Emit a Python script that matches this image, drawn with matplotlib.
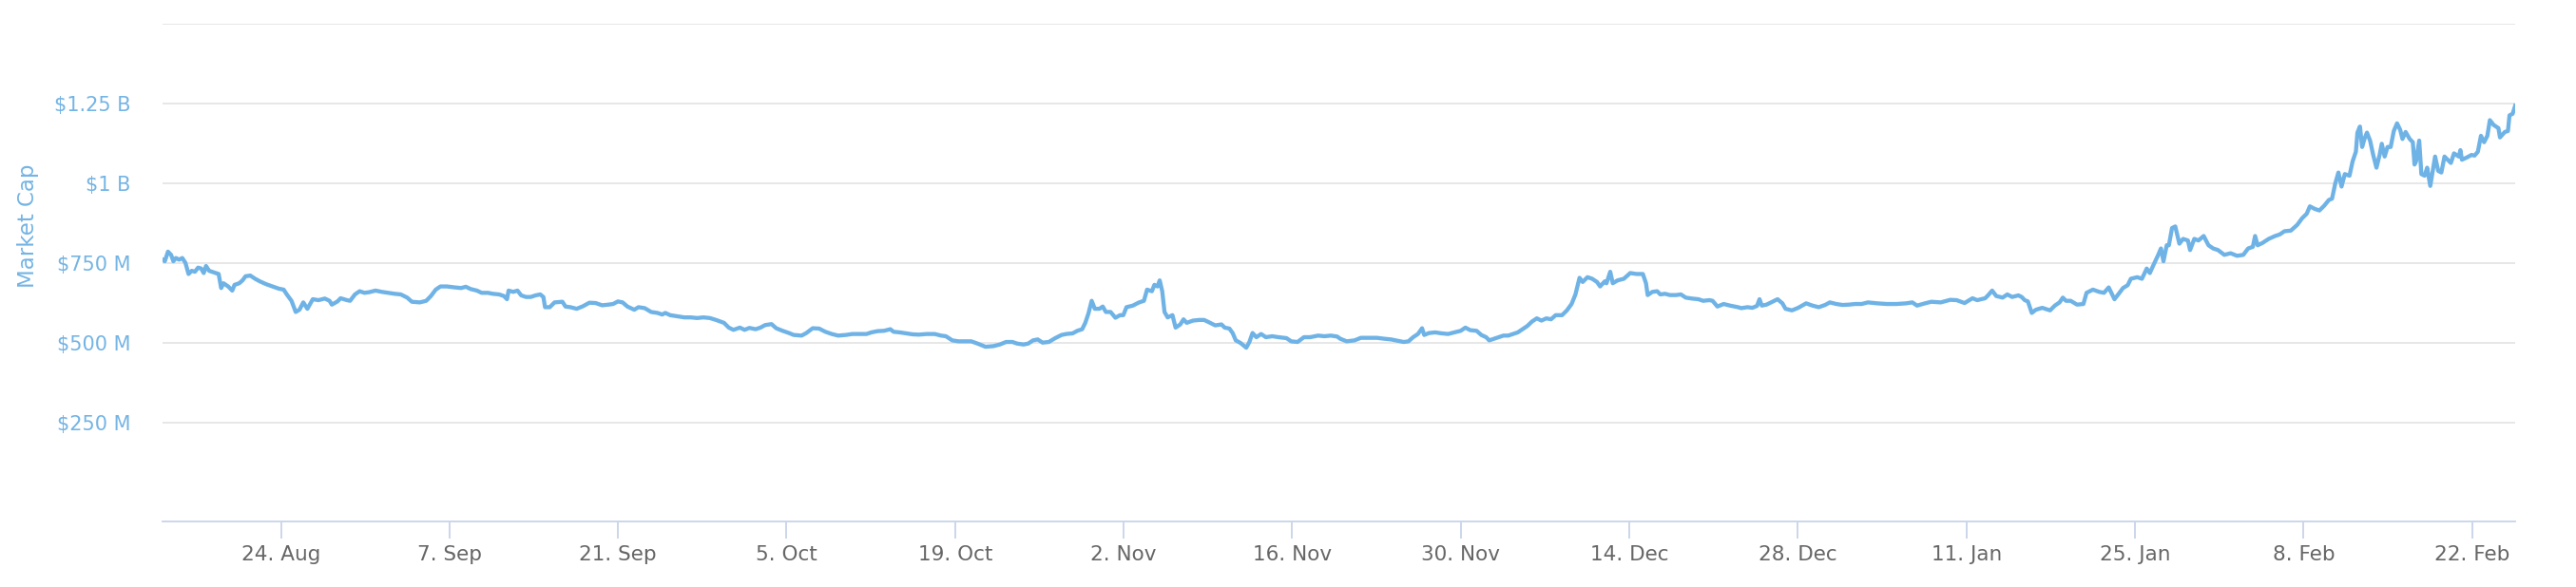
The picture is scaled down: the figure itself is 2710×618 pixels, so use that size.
import numpy as np
import pandas as pd
import matplotlib
matplotlib.use("Agg")
import matplotlib.pyplot as plt
import matplotlib.dates as mdates
from matplotlib.ticker import FixedLocator, FuncFormatter

# days after 24 Aug 2020, market cap in millions of USD
days = [
    -9.83, -9.64, -9.38, -9.12, -8.93, -8.72, -8.46, -8.19, -7.93, -7.67, -7.41, -7.14,
    -6.88, -6.62, -6.41, -6.22, -5.96, -5.56, -5.17, -4.96, -4.77, -4.38, -4.04, -3.85,
    -3.46, -3.19, -2.93, -2.54, -2.14, -1.75, -1.22, -0.69, -0.17, 0.23, 0.49, 0.88,
    1.23, 1.54, 1.86, 2.20, 2.65, 3.12, 3.65, 4.04, 4.23, 4.70, 4.96, 5.49, 5.75, 6.15,
    6.54, 6.94, 7.33, 7.86, 8.38, 8.91, 9.44, 9.96, 10.49, 10.88, 11.54, 12.07, 12.46,
    12.86, 13.25, 13.78, 14.44, 14.96, 15.36, 15.75, 16.28, 16.67, 17.20, 17.59, 18.12,
    18.52, 18.78, 18.91, 19.30, 19.65, 19.96, 20.36, 20.75, 21.15, 21.54, 21.80, 21.94,
    22.33, 22.73,
    23.38, 23.64, 24.04, 24.57, 25.09, 25.62, 26.14, 26.67, 27.20, 27.59, 27.99, 28.38,
    28.78, 29.35, 29.70, 30.22, 30.75, 31.28, 31.67, 31.93, 32.33, 32.85, 33.51, 34.04,
    34.57, 35.09, 35.62, 36.14, 36.80, 37.20, 37.59, 38.12, 38.51, 38.91, 39.43, 39.83,
    40.22, 40.75, 41.14, 41.67, 42.20, 42.59, 43.25, 43.64, 44.17, 44.70, 45.22, 45.75,
    46.28, 46.93, 47.46, 48.12, 48.64, 49.04, 49.57, 50.09, 50.62, 50.88, 51.41, 51.93,
    52.46, 52.99, 53.64, 54.30, 54.83,
    55.23, 55.76, 56.28, 56.81, 57.34, 57.86, 58.52, 59.18, 59.70, 60.23, 60.76, 61.15,
    61.68, 62.07, 62.47, 62.86, 63.26, 63.78, 64.31, 64.84, 65.23, 65.76, 66.15, 66.55,
    66.81, 67.07, 67.34, 67.60, 67.99, 68.26, 68.52, 68.91, 69.31, 69.70, 69.97, 70.23,
    70.76, 71.28, 71.68, 71.94, 72.34, 72.55, 72.81, 72.99, 73.20, 73.39, 73.65, 74.05,
    74.31, 74.70, 74.97, 75.23, 75.76, 76.28, 76.68, 77.07, 77.60, 78.12, 78.39, 78.78,
    79.05, 79.31, 79.70, 80.18, 80.44, 80.70, 81.02, 81.41, 81.81, 82.33, 82.86, 83.52,
    83.91, 84.44, 84.97, 85.49, 86.15, 86.68, 87.20, 87.73,
    87.99, 88.52, 89.17, 89.70, 90.36, 91.02, 91.67, 92.20, 92.59, 93.25, 93.65, 94.04,
    94.44, 94.78, 94.96, 95.36, 95.88, 96.41, 96.94, 97.46, 97.99, 98.38, 98.78, 99.31,
    99.70, 100.10, 100.36, 100.75, 101.15, 101.54, 101.94, 102.33, 102.73, 103.12,
    103.52, 103.91, 104.31, 104.70, 105.10, 105.49, 105.88, 106.41, 106.81, 107.20,
    107.52, 107.86, 108.12, 108.52, 108.91, 109.31, 109.57, 109.96, 110.10, 110.41,
    110.62, 111.02, 111.54, 112.07, 112.60, 113.12, 113.38, 113.52, 113.91, 114.31,
    114.57, 114.96, 115.36, 115.88, 116.28, 116.68, 117.20, 117.73, 118.12, 118.65,
    118.91, 119.31, 119.83, 120.36, 121.02,
    121.29, 121.81, 122.21, 122.60, 122.81, 123.00, 123.39, 123.92, 124.31, 124.71,
    124.97, 125.50, 126.02, 126.68, 127.21, 127.73, 128.26, 128.65, 129.18, 129.71,
    130.23, 130.76, 131.29, 131.81, 132.60, 133.39, 134.18, 134.97, 135.50, 135.89,
    136.55, 137.08, 137.86, 138.65, 139.18, 139.84, 140.50, 140.89, 141.55, 141.81,
    142.13, 142.47, 143.00, 143.39, 143.79, 144.31, 144.58, 144.84, 145.10, 145.42,
    145.76, 146.29, 146.94, 147.34, 147.73, 148.00, 148.26, 148.65, 149.18, 149.71,
    149.97, 150.50, 151.02, 151.42, 151.81, 152.29, 152.60, 153.00, 153.39, 153.65,
    154.18, 154.57, 154.97, 155.23, 155.49, 155.89, 156.15, 156.36, 156.63, 156.81,
    157.07, 157.34, 157.68, 157.99, 158.39, 158.57, 158.92, 159.26, 159.70, 160.10,
    160.49, 160.89, 161.41, 161.94, 162.47, 162.99, 163.39, 163.78, 163.97, 164.18,
    164.57, 165.10, 165.63, 166.02, 166.41, 166.94, 167.47, 167.86, 168.26, 168.52,
    168.92, 169.31, 169.71, 170.10, 170.36, 170.63, 170.89, 171.15, 171.42, 171.81,
    172.07, 172.34, 172.47, 172.68, 172.86, 173.05, 173.26, 173.52, 173.78, 174.05,
    174.31, 174.49, 174.73, 174.97, 175.23, 175.49, 175.76, 176.02, 176.21, 176.47,
    176.81, 177.07, 177.21, 177.34, 177.60, 177.78, 178.05, 178.26, 178.52, 178.92,
    179.18, 179.44, 179.70, 179.97, 180.23, 180.49, 180.89, 181.02, 181.15, 181.55,
    181.94, 182.20, 182.47, 182.73, 182.99, 183.26, 183.47, 183.78, 184.18, 184.31,
    184.71, 184.97, 185.10, 185.36, 185.57,
]
market_cap = [
    760, 755, 785, 775, 755, 765, 760, 765, 750, 715, 725, 722,
    735, 732, 718, 740, 725, 720, 715, 671, 686, 676, 663, 681,
    686, 695, 708, 710, 700, 692, 683, 676, 669, 666, 651, 631,
    596, 603, 626, 606, 636, 633, 638, 631, 619, 629, 639, 633, 631, 651,
    661, 656, 658, 663, 659, 656, 653, 651, 641, 628, 626, 631, 646,
    666, 676, 676, 673, 671, 675, 668, 663, 656, 656, 653, 651,
    646, 636, 663, 659, 663, 648, 643, 643, 648, 651, 643, 611,
    611, 626,
    628, 613, 611, 606, 614, 625, 624, 617, 619, 621, 629, 626,
    613, 603, 611, 608, 596, 593, 588, 593, 586, 583, 579, 579,
    577, 579, 577, 571, 562, 547, 540, 547, 540, 546, 542, 547,
    555, 558, 545, 537, 530, 524, 522, 530, 545, 544, 534, 527,
    522, 524, 527, 527, 527, 532, 536, 537, 542, 534, 532, 529,
    526, 525, 527, 527, 522,
    520, 507, 504, 504, 504, 497, 487, 489, 494, 502, 502, 497,
    494, 497, 507, 510, 500, 502, 514, 524, 527, 529, 537, 542,
    562, 591, 631, 606, 606, 613, 596, 596, 578, 586, 586, 611,
    616, 626, 631, 666, 661, 681, 676, 695, 661, 596, 579, 586,
    547, 557, 573, 562, 569, 571, 571, 564, 554, 557, 547, 544,
    530, 507, 499, 484, 502, 530, 517, 527, 517, 520, 517, 514,
    504, 502, 517, 517, 522, 520, 522, 519,
    512, 504, 507, 515, 515, 515, 512, 510, 507, 502, 504, 517,
    527, 545, 524, 530, 532, 529, 527, 532, 537, 547, 539, 537,
    524, 517, 507, 512, 517, 522, 522, 527, 532, 542,
    552, 566, 576, 569, 576, 573, 586, 586, 601, 621,
    651, 703, 690, 705, 700, 690, 676, 692, 686, 722,
    686, 695, 700, 718, 715, 715, 686, 649, 659, 661,
    651, 653, 649, 649, 651, 641, 638, 636, 631, 633,
    631, 613, 621, 616, 611,
    608, 611, 609, 615, 636, 616, 619, 629, 636, 623,
    606, 601, 609, 623, 616, 611, 618, 626, 621, 618,
    619, 621, 621, 626, 623, 621, 621, 623, 626, 616,
    623, 628, 626, 634, 633, 624, 639, 633, 639, 649,
    663, 646, 641, 651, 643, 648, 643, 633, 629, 593,
    603, 609, 601, 616, 626, 641, 631, 631, 619, 621,
    656, 666, 659, 656, 673, 636, 651, 671, 680, 700,
    705, 700, 732, 718, 740, 772, 795, 755, 805, 805,
    859, 864, 810, 825, 820, 790, 825, 820, 834, 805,
    795, 790, 775, 780, 772, 775, 795, 800, 834, 805,
    812, 825, 834, 839, 849, 851, 869, 889, 904, 927,
    919, 914, 929, 947, 951, 999, 1033, 989, 1028, 1023,
    1068, 1098, 1158, 1177, 1113, 1138, 1158, 1133, 1088, 1048,
    1088, 1123, 1083, 1113, 1113, 1163, 1187, 1167, 1138, 1160,
    1138, 1128, 1058, 1068, 1133, 1028, 1023, 1048, 991, 1083,
    1038, 1033, 1083, 1073, 1063, 1093, 1083, 1103, 1073, 1080,
    1088, 1086, 1098, 1148, 1128, 1148, 1197, 1182, 1172, 1143,
    1160, 1163, 1212, 1217, 1242,
]

y_ticks = [250, 500, 750, 1000, 1250, 1500]
y_labels = ["$250 M", "$500 M", "$750 M", "$1 B", "$1.25 B", ""]
x_ticks = pd.date_range("2020-08-24", "2021-02-22", freq="14D")

base = pd.Timestamp("2020-08-24")
dates = base + pd.to_timedelta(np.array(days), unit="D")
values = np.array(market_cap)

line_color = "#6fb3e6"
label_blue = "#74b4e4"

fig = plt.figure(figsize=(27.10, 6.18), dpi=100)
ax = fig.add_axes([171 / 2710, 1 - 549 / 618, (2646 - 171) / 2710, (549 - 24.7) / 618])

ax.plot(dates, values, color=line_color, lw=3.1, solid_joinstyle="round")

ax.set_xlim(dates[0], dates[-1])
ax.set_ylim(-60.4, 1500)

ax.yaxis.set_major_locator(FixedLocator(y_ticks))
ax.set_yticklabels(y_labels)
ax.grid(axis="y", color="#e3e3e3", lw=1.2)
ax.set_axisbelow(True)
ax.tick_params(axis="y", length=0, pad=24, labelsize=15, labelcolor=label_blue)

ax.set_xticks(x_ticks)
ax.xaxis.set_major_formatter(FuncFormatter(
    lambda v, p: f"{mdates.num2date(v).day}. {mdates.num2date(v).strftime('%b')}"))
ax.tick_params(axis="x", length=13, width=1.4, color="#ccd6eb", pad=5,
               labelsize=15.5, labelcolor="#666666")

for side in ["top", "right", "left"]:
    ax.spines[side].set_visible(False)
ax.spines["bottom"].set_color("#ccd6eb")
ax.spines["bottom"].set_linewidth(1.4)

ax.set_ylabel("Market Cap", color=label_blue, fontsize=16.5)
ax.yaxis.set_label_coords(-0.0525, 0.594)

fig.savefig("out.png", dpi=100, facecolor="white")
